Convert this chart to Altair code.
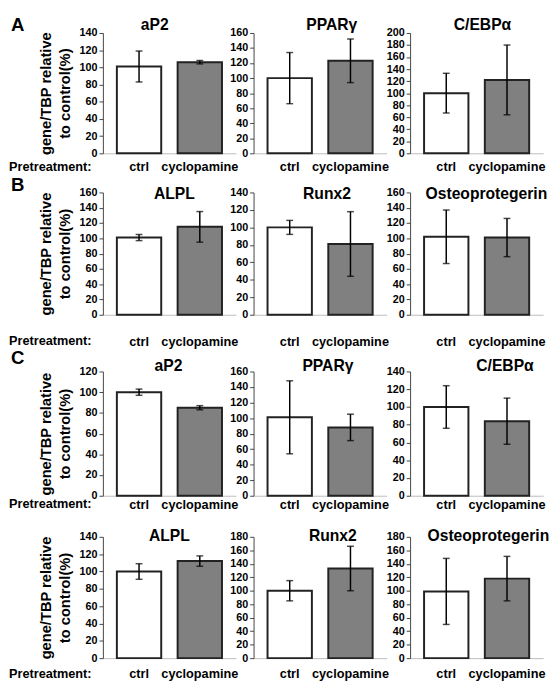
import altair as alt
import pandas as pd

# ---------------- data ----------------
genes = ["aP2", "PPARγ", "C/EBPα", "ALPL", "Runx2", "Osteoprotegerin",
         "aP2", "PPARγ", "C/EBPα", "ALPL", "Runx2", "Osteoprotegerin"]
ymax = [140, 160, 200, 160, 140, 160, 120, 160, 140, 140, 180, 180]
groups = ["ctrl", "cyclopamine"]
ctrl_mean = [101, 100, 100, 101, 100, 102, 100, 101, 100, 100, 100, 99]
ctrl_err = [18, 34, 33, 4, 8, 35, 3, 47, 24, 9, 15, 49]
cyc_mean = [106, 123, 122, 115, 81, 101, 85, 88, 84, 112, 133, 118]
cyc_err = [2, 29, 58, 20, 37, 25, 2, 17, 26, 6, 33, 33]
row_letters = ["A", "B", "C", ""]
y_title = ["gene/TBP relative", "to control(%)"]
pretreat_label = "Pretreatment:"

# ---------------- layout / style ----------------
FONT = "Liberation Sans"
plot_h = [123, 125, 127, 124]
top_pad = [0, 0, 18, 2]
label_pad = [8, 21, 3, 10]
title_y = [-8, 2, 12, 1]
letter_y = [-8, -7, 4, 0]
title_dx = [[53, 80, 74], [73, 75, 78], [67, 76, 97], [68, 81, 80]]
col_w = [136, 142, 136]
band_w = 136

recs = []
for i in range(len(genes)):
    recs.append({"panel": i, "group": groups[0], "mean": ctrl_mean[i],
                 "lo": ctrl_mean[i] - ctrl_err[i], "hi": ctrl_mean[i] + ctrl_err[i]})
    recs.append({"panel": i, "group": groups[1], "mean": cyc_mean[i],
                 "lo": cyc_mean[i] - cyc_err[i], "hi": cyc_mean[i] + cyc_err[i]})
df = pd.DataFrame(recs)


def panel(i):
    r, c = divmod(i, 3)
    H = plot_h[r] + top_pad[r]
    yscale = alt.Scale(domain=[0, ymax[i]], nice=False, range=[H, top_pad[r]])
    xscale = alt.Scale(domain=groups, range=[0, band_w], paddingInner=0.27, paddingOuter=0.23)
    yaxis_kw = dict(values=list(range(0, ymax[i] + 1, 20)), grid=False,
                    labelFlush=False, labelOverlap=False,
                    domainColor="#444", tickColor="#444", tickSize=4, labelPadding=2,
                    labelFontSize=11, labelFontWeight="bold", labelColor="black")
    if c == 0:
        yaxis = alt.Axis(title=y_title, titleFontSize=15, titleFontWeight="bold",
                         titleColor="black", titleLineHeight=19, titlePadding=7, **yaxis_kw)
    else:
        yaxis = alt.Axis(title=None, **yaxis_kw)
    xaxis = alt.Axis(title=None, labelAngle=0, ticks=False, labelPadding=label_pad[r],
                     domainColor="#bbbbbb", labelFontSize=13, labelFontWeight="bold",
                     labelColor="black")
    base = alt.Chart(df).transform_filter(alt.datum.panel == i)
    x = alt.X("group:N", scale=xscale, axis=xaxis)

    bars = base.mark_bar(stroke="#222222", strokeWidth=2).encode(
        x=x,
        y=alt.Y("mean:Q", scale=yscale, axis=yaxis),
        fill=alt.Fill("group:N", scale=alt.Scale(domain=groups, range=["#ffffff", "#808080"]),
                      legend=None),
    )
    rule = base.mark_rule(color="black", strokeWidth=1.5).encode(
        x=x, y=alt.Y("lo:Q", scale=yscale, axis=yaxis), y2="hi:Q")
    caps = base.transform_fold(["lo", "hi"], as_=["k", "v"]).mark_tick(
        color="black", thickness=1.5, size=7).encode(
        x=x, y=alt.Y("v:Q", scale=yscale, axis=yaxis))
    ttl = alt.Chart(alt.Data(values=[{"t": genes[i]}])).mark_text(
        fontSize=16, fontWeight="bold", align="center", baseline="middle", color="black").encode(
        text="t:N", x=alt.value(title_dx[r][c]), y=alt.value(title_y[r]))
    layers = [bars, rule, caps, ttl]
    if c == 0:
        pre = alt.Chart(alt.Data(values=[{"t": pretreat_label}])).mark_text(
            fontSize=13, fontWeight="bold", align="left", baseline="top", color="black").encode(
            text="t:N", x=alt.value(-96), y=alt.value(H + label_pad[r]))
        layers.append(pre)
        if row_letters[r]:
            let = alt.Chart(alt.Data(values=[{"t": row_letters[r]}])).mark_text(
                fontSize=19, fontWeight="bold", align="left", baseline="middle", color="black").encode(
                text="t:N", x=alt.value(-94), y=alt.value(letter_y[r]))
            layers.append(let)
    return alt.layer(*layers).properties(width=col_w[c], height=H)


chart = alt.concat(*[panel(i) for i in range(len(genes))], columns=3,
                   spacing={"row": 40, "column": 18}, bounds="flush", align="each").configure(
    font=FONT, padding=0, background="white").configure_view(stroke="transparent")

chart.save("out.html", embed_options={"renderer": "svg", "actions": False})
